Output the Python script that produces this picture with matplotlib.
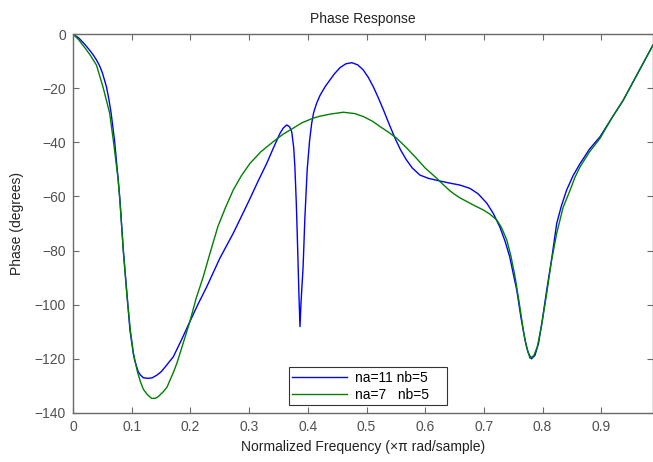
import matplotlib
matplotlib.use("Agg")
import matplotlib.pyplot as plt

plt.rcParams['font.family'] = ['Liberation Sans', 'DejaVu Sans']

title = "Phase Response"
xlabel = "Normalized Frequency (\u00d7\u03c0 rad/sample)"
ylabel = "Phase (degrees)"
legend_labels = ["na=11 nb=5", "na=7   nb=5"]

xticks = [0, 0.1, 0.2, 0.3, 0.4, 0.5, 0.6, 0.7, 0.8, 0.9]
yticks = [0, -20, -40, -60, -80, -100, -120, -140]

blue_x = [0, 0.010, 0.020, 0.028, 0.035, 0.040, 0.045, 0.050, 0.057, 0.061, 0.065,
          0.071, 0.077, 0.080, 0.0857, 0.0914, 0.097, 0.1027, 0.105, 0.111, 0.115,
          0.120, 0.128, 0.135, 0.143, 0.150, 0.157, 0.171, 0.185, 0.199, 0.213,
          0.228, 0.250, 0.273, 0.290, 0.300, 0.315, 0.330, 0.342, 0.3526, 0.358,
          0.364, 0.369, 0.3726, 0.376, 0.378, 0.3805, 0.3828, 0.385, 0.3867, 0.3885,
          0.392, 0.395, 0.399, 0.403, 0.4066, 0.410, 0.415, 0.421, 0.430, 0.438, 0.445,
          0.455, 0.465, 0.475, 0.485, 0.4946, 0.503, 0.5116, 0.520, 0.529, 0.538,
          0.5486, 0.558, 0.568, 0.578, 0.591, 0.605, 0.625, 0.640, 0.659, 0.676,
          0.690, 0.705, 0.716, 0.727, 0.736, 0.744, 0.750, 0.756, 0.763, 0.770,
          0.775, 0.781, 0.787, 0.793, 0.800, 0.807, 0.8155, 0.824, 0.832, 0.841,
          0.852, 0.864, 0.880, 0.898, 0.918, 0.9375, 0.988]
blue_y = [0, -1.5, -3.8, -5.9, -7.9, -9.6, -11.6, -14.3, -19.5, -24.0, -29.3,
          -39.8, -53.9, -61.3, -79.8, -94.6, -109.3, -118.0, -120.5, -124.7, -126.0,
          -127.0, -127.2, -127.0, -126.0, -124.8, -123.0, -119.2, -112.9, -106.3, -99.8,
          -93.3, -82.9, -73.6, -66.0, -61.5, -54.5, -47.8, -41.8, -36.7, -34.8,
          -33.6, -34.3, -36.1, -42.0, -49.0, -63.0, -79.8, -97.0, -108.1, -99.0,
          -86.0, -68.0, -50.0, -39.5, -33.0, -29.0, -25.6, -22.6, -19.3, -16.9, -14.8,
          -12.4, -11.0, -10.6, -11.4, -13.3, -16.0, -19.5, -23.5, -28.1, -33.0,
          -38.5, -42.8, -46.5, -49.5, -52.1, -53.3, -54.3, -55.0, -55.8, -57.0,
          -59.0, -62.5, -66.3, -71.2, -76.5, -82.3, -88.5, -94.6, -104.5, -113.0,
          -117.5, -120.0, -118.7, -114.3, -105.0, -94.6, -83.0, -70.0, -63.5, -57.6,
          -52.3, -47.8, -42.5, -37.9, -31.0, -24.4, -4.1]

green_x = [0, 0.010, 0.023, 0.030, 0.040, 0.051, 0.0625, 0.069, 0.077, 0.080,
           0.086, 0.092, 0.098, 0.103, 0.110, 0.115, 0.120, 0.127, 0.134, 0.140,
           0.145, 0.154, 0.160, 0.165, 0.171, 0.177, 0.188, 0.199, 0.210, 0.2164,
           0.222, 0.232, 0.247, 0.260, 0.273, 0.287, 0.3015, 0.320, 0.341, 0.358,
           0.375, 0.390, 0.409, 0.420, 0.438, 0.4605, 0.480, 0.4946, 0.510, 0.523,
           0.537, 0.5514, 0.568, 0.585, 0.600, 0.6196, 0.630, 0.642, 0.650, 0.659,
           0.671, 0.685, 0.699, 0.710, 0.722, 0.730, 0.739, 0.746, 0.753, 0.760,
           0.767, 0.772, 0.7785, 0.785, 0.791, 0.798, 0.807, 0.815, 0.824, 0.835,
           0.847, 0.855, 0.864, 0.880, 0.898, 0.918, 0.9375, 0.988]
green_y = [0, -2.2, -5.9, -8.0, -11.5, -19.5, -29.3, -39.8, -53.9, -62.0,
           -81.0, -97.0, -110.0, -118.0, -125.0, -128.5, -131.3, -133.3, -134.6, -134.6,
           -134.0, -132.1, -130.5, -128.0, -125.0, -121.6, -114.0, -106.3, -97.5, -93.3,
           -89.6, -82.0, -71.0, -64.0, -57.6, -52.3, -47.8, -43.5, -39.8, -37.0,
           -34.8, -32.8, -31.1, -30.4, -29.6, -28.9, -29.4, -30.5, -32.2, -34.2,
           -36.2, -38.5, -42.0, -45.9, -49.5, -53.3, -55.5, -57.9, -59.2, -60.5,
           -61.9, -63.5, -65.0, -66.5, -68.7, -71.5, -76.1, -82.0, -89.6, -99.0,
           -109.3, -115.0, -119.8, -118.8, -115.5, -108.0, -95.8, -84.0, -73.6, -64.0,
           -57.6, -53.0, -49.0, -43.5, -38.5, -31.0, -24.4, -4.1]

fig = plt.figure(figsize=(6.53, 4.62), dpi=100)
ax = fig.add_axes([73/653, 1-413/462, 580/653, 379/462])

ax.plot(blue_x, blue_y, color=(0, 0, 1), lw=1.0, label=legend_labels[0])
ax.plot(green_x, green_y, color=(0, 0.5, 0), lw=1.0, label=legend_labels[1])

ax.set_xlim(0, 580/587)
ax.set_ylim(-140, 0)
ax.set_xticks(xticks)
ax.set_xticklabels([("%g" % t) for t in xticks])
ax.set_yticks(yticks)
ax.set_yticklabels([("\u2212%d" % -t) if t < 0 else "0" for t in yticks])

gray = '#6a6a6a'
for s in ax.spines.values():
    s.set_color(gray)
    s.set_linewidth(1.0)
ax.tick_params(direction='in', length=4, width=0.8, colors=gray, labelcolor='#505050',
               labelsize=10, top=True, right=True, pad=5)

ax.set_title(title, fontsize=10, pad=8, color='#222222')
ax.set_xlabel(xlabel, fontsize=10, labelpad=4, color='#222222')
ax.set_ylabel(ylabel, fontsize=10, labelpad=8, color='#222222')

leg = ax.legend(loc='lower left', bbox_to_anchor=((289-73)/580, (413-405)/379, (447-289)/580, 40/379),
                mode='expand', fontsize=10, frameon=True, fancybox=False, borderaxespad=0,
                handlelength=3.9, handletextpad=0.6, borderpad=0.25, labelspacing=0.2)
leg.get_frame().set_edgecolor('black')
leg.get_frame().set_linewidth(0.8)

fig.savefig("out.png", dpi=100)
